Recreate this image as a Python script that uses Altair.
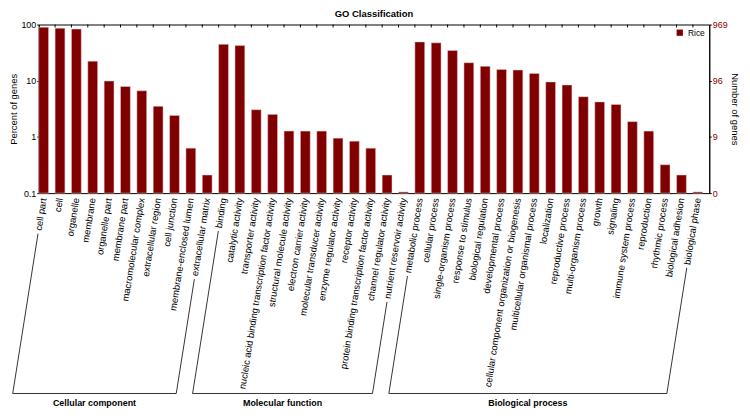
import math
import altair as alt
import pandas as pd

# ---------------- data ----------------
categories = [
    "cell part", "cell", "organelle", "membrane", "organelle part", "membrane part",
    "macromolecular complex", "extracellular region", "cell junction",
    "membrane-enclosed lumen", "extracellular matrix",
    "binding", "catalytic activity", "transporter activity",
    "nucleic acid binding transcription factor activity", "structural molecule activity",
    "electron carrier activity", "molecular transducer activity", "enzyme regulator activity",
    "receptor activity", "protein binding transcription factor activity",
    "channel regulator activity", "nutrient reservoir activity",
    "metabolic process", "cellular process", "single-organism process",
    "response to stimulus", "biological regulation", "developmental process",
    "cellular component organization or biogenesis", "multicellular organismal process",
    "localization", "reproductive process", "multi-organism process", "growth", "signaling",
    "immune system process", "reproduction", "rhythmic process", "biological adhesion",
    "biological phase",
]
group_names = ["Cellular component", "Molecular function", "Biological process"]
group_sizes = [11, 12, 18]
percent = [
    89.4, 86.1, 82.9, 22.3, 9.87, 7.89, 6.62, 3.50, 2.41, 0.63, 0.21,
    44.4, 42.2, 3.05, 2.52, 1.27, 1.27, 1.27, 0.95, 0.84, 0.63, 0.21, 0.105,
    49.0, 47.2, 34.6, 20.9, 18.0, 15.9, 15.5, 13.5, 9.5, 8.4, 5.2, 4.2, 3.78,
    1.87, 1.27, 0.32, 0.21, 0.105,
]
series_name = "Rice"
total_genes = 969
y_ticks = [0.1, 1, 10, 100]

# ---------------- layout ----------------
FONT = "Liberation Sans"
W, H = 676, 170
XMIN, XMAX = -0.3, 40.7
PPU = W / (XMAX - XMIN)
YMIN, YMAX = 0.1, 100.0
PX_PER_DECADE = H / math.log10(YMAX / YMIN)
LABEL_FS = 9.5
LABEL_ANGLE = 279
LABEL_PAD = 5
TILT = math.radians(LABEL_ANGLE - 270)   # lean of the labels from vertical
YB = H + 202          # bracket baseline (px below plot top)
BAR_COLOR = "#800000"

HELV = {' ': 278, '-': 333, 'a': 556, 'b': 556, 'c': 500, 'd': 556, 'e': 556, 'f': 278,
        'g': 556, 'h': 556, 'i': 222, 'j': 222, 'k': 500, 'l': 222, 'm': 833, 'n': 556,
        'o': 556, 'p': 556, 'q': 556, 'r': 333, 's': 500, 't': 278, 'u': 556, 'v': 500,
        'w': 722, 'x': 500, 'y': 500, 'z': 500}


def text_px(s, size):
    return sum(HELV.get(c, 556) for c in s) * size / 1000.0


def px_to_val(py):
    """pixel offset from plot top -> value on the (extrapolated) log y scale"""
    return YMAX * 10 ** (-py / PX_PER_DECADE)


def label_foot(i, gap=3.0):
    L = text_px(categories[i], LABEL_FS) + gap
    return i - L * math.sin(TILT) / PPU, LABEL_PAD + H + L * math.cos(TILT)


def down_to(x, py):
    return x - (YB - py) * math.tan(TILT) / PPU


df = pd.DataFrame({
    "category": categories,
    "idx": list(range(len(categories))),
    "percent": percent,
    "series": series_name,
    "labely": [px_to_val(H + LABEL_PAD)] * len(categories),
})

path_rows, grp_rows = [], []
start = 0
for gi, (name, n) in enumerate(zip(group_names, group_sizes)):
    a, b = start, start + n - 1
    xa, ya = label_foot(a)
    xb, yb = label_foot(b)
    xa0, xb0 = down_to(xa, ya), down_to(xb, yb)
    pts = [(xa, ya), (xa0, YB), (xb0, YB), (xb, yb)]
    for k, (px, py) in enumerate(pts):
        path_rows.append({"grp": gi, "ord": k, "px": px, "py": px_to_val(py)})
    grp_rows.append({"gx": (xa0 + xb0) / 2, "gy": px_to_val(YB + 10), "gname": name})
    start += n
path_df = pd.DataFrame(path_rows)
grp_df = pd.DataFrame(grp_rows)
tick_df = pd.DataFrame({"tk": [i - 0.3 for i in range(1, len(categories))]})

xscale = alt.Scale(domain=[XMIN, XMAX], nice=False, zero=False)
yscale = alt.Scale(type="log", domain=[YMIN, YMAX], nice=False)

bars = alt.Chart(df).transform_calculate(
    x0="datum.idx - 0.3", x1="datum.idx + 0.3", base="0.1"
).mark_bar(stroke="#ead0d0", strokeWidth=0.5).encode(
    x=alt.X("x0:Q", scale=xscale, axis=alt.Axis(
        values=list(range(len(categories))), labels=False, ticks=False,
        grid=False, title=None)),
    x2="x1:Q",
    y=alt.Y("percent:Q", scale=yscale, axis=alt.Axis(
        orient="left", values=y_ticks, format="~g", title="Percent of genes",
        tickSize=2, labelPadding=1, titlePadding=2, grid=False)),
    y2="base:Q",
    color=alt.Color("series:N", scale=alt.Scale(range=[BAR_COLOR]), legend=alt.Legend(
        title=None, orient="top-right", offset=4, padding=0, symbolType="square",
        symbolSize=40, symbolStrokeWidth=0, labelFontSize=8.5, labelFont=FONT)),
)

right = alt.Chart(df).mark_point(opacity=0).encode(
    x=alt.X("idx:Q", scale=xscale, axis=None),
    y=alt.Y("percent:Q", scale=yscale, axis=alt.Axis(
        orient="right", values=y_ticks,
        labelExpr="floor(datum.value * %d / 100)" % total_genes,
        labelColor="#8b0000", title="Number of genes", tickSize=2, labelPadding=1,
        titlePadding=2, grid=False)),
)

xlabels = alt.Chart(df).mark_text(
    font=FONT, fontSize=LABEL_FS, angle=LABEL_ANGLE, align="right", baseline="middle",
    color="black", clip=False
).encode(
    x=alt.X("idx:Q", scale=xscale, axis=None),
    y=alt.Y("labely:Q", scale=yscale, axis=None),
    text="category:N",
)

top_ticks = alt.Chart(tick_df).mark_rule(color="black", strokeWidth=1).encode(
    x=alt.X("tk:Q", scale=xscale, axis=None),
    y=alt.value(0), y2=alt.value(3),
)

brackets = alt.Chart(path_df).mark_line(color="black", strokeWidth=0.8, clip=False).encode(
    x=alt.X("px:Q", scale=xscale, axis=None),
    y=alt.Y("py:Q", scale=yscale, axis=None),
    detail="grp:N",
    order="ord:Q",
)

group_text = alt.Chart(grp_df).mark_text(
    font=FONT, fontSize=9, fontWeight="bold", align="center", baseline="middle",
    color="black", clip=False
).encode(
    x=alt.X("gx:Q", scale=xscale, axis=None),
    y=alt.Y("gy:Q", scale=yscale, axis=None),
    text="gname:N",
)

chart = alt.layer(bars, right, xlabels, top_ticks, brackets, group_text).resolve_axis(
    y="independent"
).properties(
    width=W, height=H,
    autosize=alt.AutoSizeParams(type="none"),
    padding={"left": 31, "top": 15, "right": 33, "bottom": 216},
    title=alt.TitleParams("GO Classification", font=FONT, fontSize=9.5,
                          fontWeight="bold", offset=2, anchor="middle"),
).configure_view(
    stroke="black", strokeWidth=1
).configure_axis(
    labelFont=FONT, titleFont=FONT, labelFontSize=9, titleFontSize=9.5,
    titleFontWeight="normal", labelColor="black", titleColor="black",
    domainColor="black", tickColor="black",
)

chart.save("out.html", embed_options={"renderer": "svg", "actions": False})
